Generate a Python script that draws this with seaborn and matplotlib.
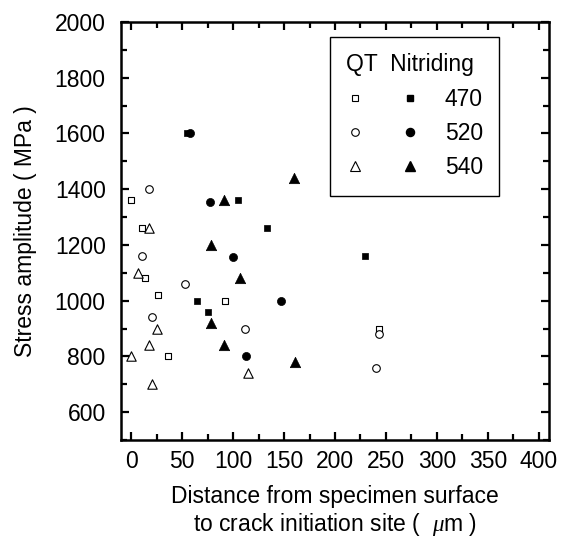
import numpy as np
import pandas as pd
import matplotlib
matplotlib.use("Agg")
import matplotlib.pyplot as plt
import seaborn as sns
from matplotlib.lines import Line2D
from matplotlib.legend_handler import HandlerTuple
from matplotlib.ticker import MultipleLocator

# ---- data ----
temps = ["470", "520", "540"]
qt_470_x = [0, 11, 14, 26, 36, 92, 243]
qt_470_y = [1360, 1260, 1080, 1020, 800, 1000, 900]
qt_520_x = [17, 11, 53, 20, 112, 243, 240]
qt_520_y = [1400, 1160, 1060, 940, 900, 880, 760]
qt_540_x = [17, 7, 25, 17, 0, 115, 20]
qt_540_y = [1260, 1100, 900, 840, 800, 740, 700]
nit_470_x = [55, 105, 133, 229, 65, 75]
nit_470_y = [1600, 1360, 1260, 1160, 1000, 960]
nit_520_x = [58, 77, 100, 147, 113]
nit_520_y = [1600, 1355, 1155, 1000, 800]
nit_540_x = [160, 91, 78, 107, 78, 91, 161]
nit_540_y = [1440, 1360, 1200, 1080, 920, 840, 780]

x_ticks = [0, 50, 100, 150, 200, 250, 300, 350, 400]
y_ticks = [600, 800, 1000, 1200, 1400, 1600, 1800, 2000]

rows = []
for t, xs, ys in zip(temps, [qt_470_x, qt_520_x, qt_540_x], [qt_470_y, qt_520_y, qt_540_y]):
    rows += [dict(x=a, y=b, treat="QT", temp=t) for a, b in zip(xs, ys)]
for t, xs, ys in zip(temps, [nit_470_x, nit_520_x, nit_540_x], [nit_470_y, nit_520_y, nit_540_y]):
    rows += [dict(x=a, y=b, treat="Nitriding", temp=t) for a, b in zip(xs, ys)]
df = pd.DataFrame(rows)

sns.set_theme(style="ticks")
plt.rcParams["font.family"] = ["Liberation Sans", "DejaVu Sans"]
plt.rcParams["mathtext.fontset"] = "custom"
plt.rcParams["mathtext.it"] = "Liberation Serif:italic"
plt.rcParams["mathtext.rm"] = "Liberation Sans"
for k in ["text.color", "axes.labelcolor", "xtick.color", "ytick.color", "axes.edgecolor"]:
    plt.rcParams[k] = "black"

FS = 16.5
fig = plt.figure(figsize=(5.7, 5.44), dpi=100)
ax = fig.add_axes([121 / 570, 1 - 440 / 544, 428 / 570, 418 / 544])

markers = {"470": "s", "520": "o", "540": "^"}
sizes_open = {"470": 20, "520": 30, "540": 46}
sizes_fill = {"470": 24, "520": 34, "540": 56}

for t in temps:
    d = df[(df.treat == "QT") & (df.temp == t)]
    sns.scatterplot(data=d, x="x", y="y", marker=markers[t], s=sizes_open[t],
                    facecolor="white", edgecolor="black", linewidth=0.8,
                    ax=ax, legend=False, zorder=3)
for t in temps:
    d = df[(df.treat == "Nitriding") & (df.temp == t)]
    sns.scatterplot(data=d, x="x", y="y", marker=markers[t], s=sizes_fill[t],
                    color="black", edgecolor="black", linewidth=0.5,
                    ax=ax, legend=False, zorder=3)

ax.set_xlim(-10, 410)
ax.set_ylim(500, 2000)
ax.set_xticks(x_ticks)
ax.set_yticks(y_ticks)
ax.xaxis.set_minor_locator(MultipleLocator(25))
ax.yaxis.set_minor_locator(MultipleLocator(100))
ax.tick_params(which="both", direction="in", top=True, right=True,
               width=1.6, colors="black", labelsize=FS, labelcolor="black")
ax.tick_params(which="major", length=6)
ax.tick_params(which="minor", length=4)
ax.tick_params(axis="x", which="major", pad=7)
ax.tick_params(axis="y", which="major", pad=11)
for sp in ax.spines.values():
    sp.set_linewidth(1.8)
    sp.set_color("black")

ax.set_xlabel("Distance from specimen surface\nto crack initiation site (  $\\mathit{\\mu}$m )",
              fontsize=FS, labelpad=9, linespacing=1.15, color="black")
ax.set_ylabel("Stress amplitude ( MPa )", fontsize=FS, labelpad=13, color="black")

handles = []
for t in temps:
    h_open = Line2D([], [], linestyle="none", marker=markers[t], markersize=np.sqrt(sizes_open[t]),
                    markerfacecolor="white", markeredgecolor="black", markeredgewidth=0.8)
    h_fill = Line2D([], [], linestyle="none", marker=markers[t], markersize=np.sqrt(sizes_fill[t]),
                    markerfacecolor="black", markeredgecolor="black")
    handles.append((h_open, h_fill))
leg = ax.legend(handles, temps, handler_map={tuple: HandlerTuple(ndivide=None, pad=1.62)},
                title="QT  Nitriding", title_fontsize=FS, fontsize=FS,
                loc="upper right", bbox_to_anchor=(0.883, 0.964), borderaxespad=0,
                handlelength=3.2, handletextpad=1.1, labelspacing=0.5,
                frameon=True, fancybox=False, edgecolor="black", framealpha=1,
                borderpad=0.7, labelcolor="black")
leg.get_frame().set_linewidth(1.0)
leg.get_title().set_color("black")
leg._legend_box.align = "left"

fig.savefig("out.png", dpi=100)
